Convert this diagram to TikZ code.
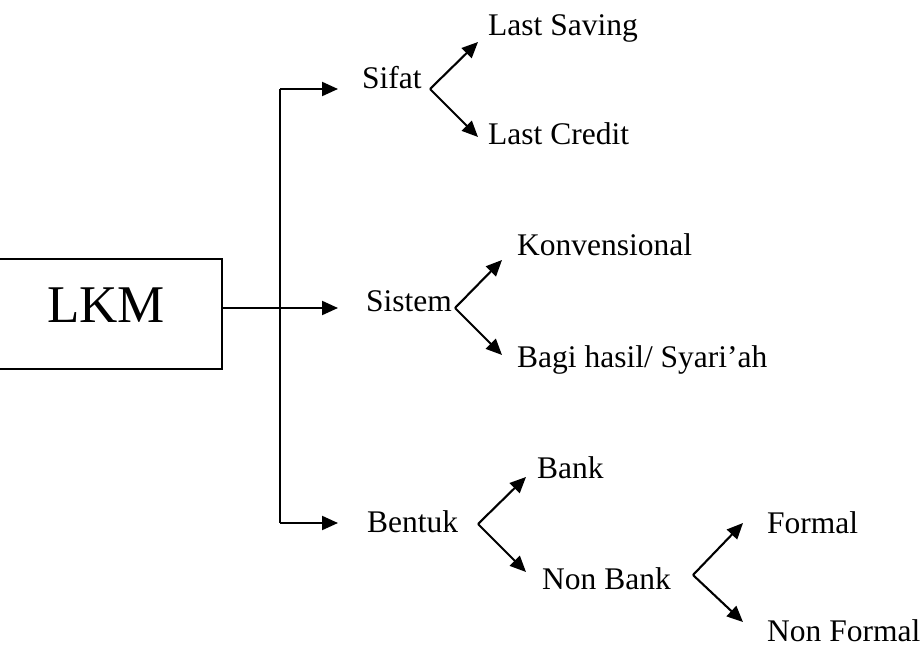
\documentclass[tikz,border=0pt]{standalone}
\usepackage{fontspec}
\setmainfont{Liberation Serif}
\usetikzlibrary{arrows.meta}
\begin{document}
\begin{tikzpicture}[x=1pt,y=-1pt,
  lbl/.style={anchor=base west,inner sep=0pt,font=\fontsize{31.5}{36}\selectfont},
  conn/.style={line width=2.1pt,-{Triangle[length=16pt,width=14pt]}},
  plain/.style={line width=2.1pt}]
\useasboundingbox (0,0) rectangle (924,647);
% root box
\node[draw,line width=2.1pt,minimum width=232pt,minimum height=110pt,inner sep=0pt,anchor=north east] (box) at (223,258) {};
\node[anchor=base,inner sep=0pt,font=\fontsize{53}{60}\selectfont] (lkm) at (106,322) {LKM};
% level 1 labels
\node[lbl] (sifat) at (362,89) {Sifat};
\node[lbl] (sistem) at (366,312) {Sistem};
\node[lbl] (bentuk) at (367,532) {Bentuk};
% level 2 labels
\node[lbl] (ls) at (488,36) {Last Saving};
\node[lbl] (lc) at (488,145) {Last Credit};
\node[lbl] (konv) at (517,256) {Konvensional};
\node[lbl] (bagi) at (517,367) {Bagi hasil/ Syari’ah};
\node[lbl] (bank) at (537,478) {Bank};
\node[lbl] (nonbank) at (542,589) {Non Bank};
\node[lbl] (formal) at (767,533) {Formal};
\node[lbl] (nonformal) at (767,641) {Non Formal};
% trunk
\coordinate (trunkTop) at (280,89);
\coordinate (trunkBot) at (280,523);
\coordinate (boxOut) at (box.east |- 0,308);
\coordinate (tSifat) at (338,89);
\coordinate (tSistem) at (338,308);
\coordinate (tBentuk) at (338,523);
\draw[plain] (trunkTop) -- (trunkBot);
\draw[conn] (trunkTop) -- (tSifat);
\draw[conn] (boxOut) -- (tSistem);
\draw[conn] (trunkBot) -- (tBentuk);
% forks
\coordinate (vSifat) at (430,89);
\coordinate (uSifat) at (478,42);
\coordinate (dSifat) at (478,137);
\draw[conn] (vSifat) -- (uSifat);
\draw[conn] (vSifat) -- (dSifat);
\coordinate (vSistem) at (455,308);
\coordinate (uSistem) at (502,260);
\coordinate (dSistem) at (502,355);
\draw[conn] (vSistem) -- (uSistem);
\draw[conn] (vSistem) -- (dSistem);
\coordinate (vBentuk) at (478,524);
\coordinate (uBentuk) at (526,477);
\coordinate (dBentuk) at (526,572);
\draw[conn] (vBentuk) -- (uBentuk);
\draw[conn] (vBentuk) -- (dBentuk);
\coordinate (vNon) at (693,575);
\coordinate (uNon) at (743,523);
\coordinate (dNon) at (743,622);
\draw[conn] (vNon) -- (uNon);
\draw[conn] (vNon) -- (dNon);
\end{tikzpicture}
\end{document}
